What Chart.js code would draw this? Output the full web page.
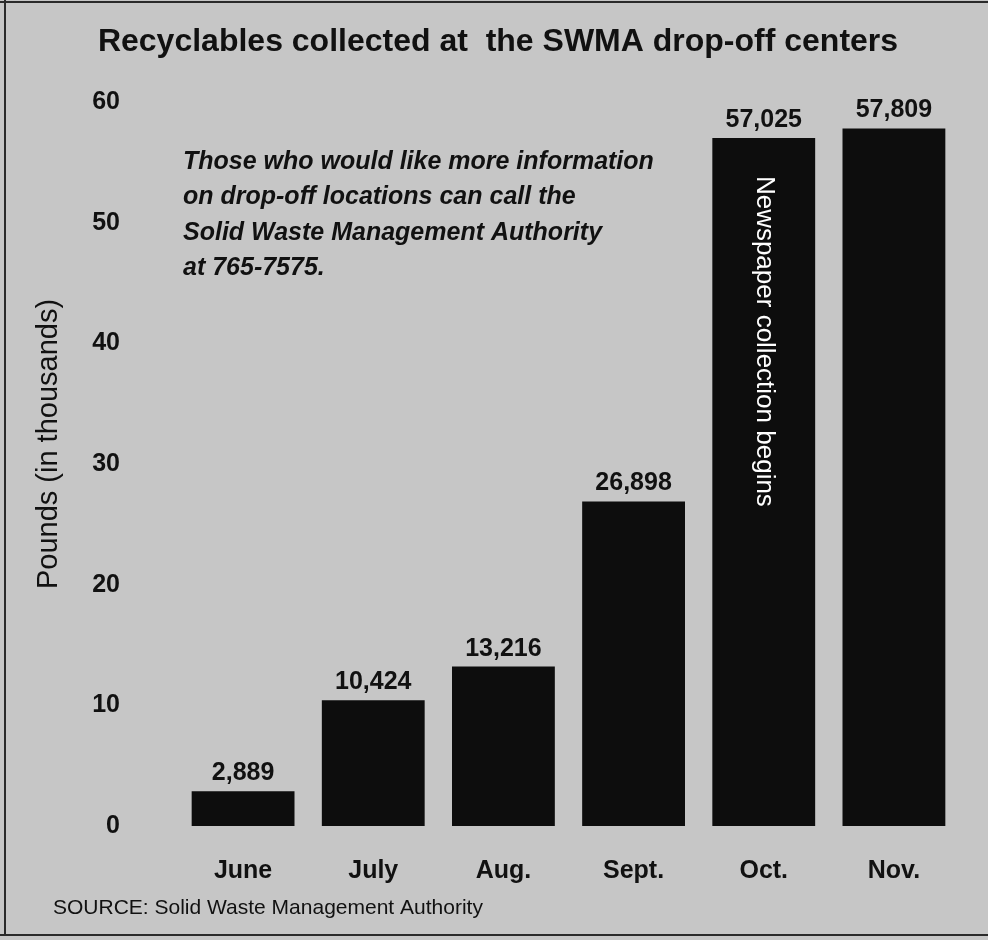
<!DOCTYPE html>
<html><head><meta charset="utf-8">
<script src="https://cdn.jsdelivr.net/npm/chart.js@4/dist/chart.umd.min.js"></script>
<style>html,body{margin:0;padding:0;background:#c4c4c4;overflow:hidden}#wrap{width:988px;height:940px;position:relative}</style>
</head><body><div id="wrap"><canvas id="c" width="988" height="940"></canvas></div>
<script>
const categories = ["June", "July", "Aug.", "Sept.", "Oct.", "Nov."];
const poundsThousands = [2.889, 10.424, 13.216, 26.898, 57.025, 57.809];
const valueLabels = ["2,889", "10,424", "13,216", "26,898", "57,025", "57,809"];
const yTicks = [0, 10, 20, 30, 40, 50, 60];
const titleText = "Recyclables collected at  the SWMA drop-off centers";
const yTitle = "Pounds (in thousands)";
const noteLines = ["Those who would like more information", "on drop-off locations can call the", "Solid Waste Management Authority", "at 765-7575."];
const barNote = "Newspaper collection begins";
const barNoteIndex = 4;
const sourceText = "SOURCE: Solid Waste Management Authority";

const FONT = "'Liberation Sans', Arial, Helvetica, sans-serif";
const INK = "#111111";

const backdrop = {
  id: 'backdrop',
  beforeDraw(chart) {
    const ctx = chart.ctx;
    ctx.save();
    ctx.fillStyle = '#c6c6c6';
    ctx.fillRect(0, 0, chart.width, chart.height);
    ctx.strokeStyle = '#2a2a2a';
    ctx.lineWidth = 2;
    ctx.beginPath();
    ctx.moveTo(5, 0); ctx.lineTo(5, 936);
    ctx.moveTo(0, 2); ctx.lineTo(988, 2);
    ctx.moveTo(0, 935); ctx.lineTo(988, 935);
    ctx.stroke();
    ctx.restore();
  }
};

const overlay = {
  id: 'overlay',
  afterDatasetsDraw(chart) {
    const ctx = chart.ctx;
    const area = chart.chartArea;
    const meta = chart.getDatasetMeta(0);
    ctx.save();
    // value labels
    ctx.fillStyle = INK;
    ctx.font = "bold 25px " + FONT;
    ctx.textAlign = 'center';
    ctx.textBaseline = 'alphabetic';
    meta.data.forEach((bar, i) => {
      ctx.fillText(valueLabels[i], bar.x, bar.y - 11);
    });
    // note
    ctx.font = "italic bold 25px " + FONT;
    ctx.textAlign = 'left';
    ctx.textBaseline = 'middle';
    noteLines.forEach((line, i) => {
      ctx.fillText(line, area.left + 5, area.top + 60 + i * 35.5);
    });
    // vertical note in bar
    const b = meta.data[barNoteIndex];
    ctx.save();
    ctx.translate(b.x, b.y + 38);
    ctx.rotate(Math.PI / 2);
    ctx.fillStyle = '#ffffff';
    ctx.font = "26px " + FONT;
    ctx.textAlign = 'left';
    ctx.textBaseline = 'middle';
    ctx.fillText(barNote, 0, 0);
    ctx.restore();
    // y axis title
    ctx.save();
    ctx.translate(49, 444);
    ctx.rotate(-Math.PI / 2);
    ctx.fillStyle = INK;
    ctx.font = "29px " + FONT;
    ctx.textAlign = 'center';
    ctx.textBaseline = 'middle';
    ctx.fillText(yTitle, 0, 0);
    ctx.restore();
    // source
    ctx.fillStyle = INK;
    ctx.font = "21px " + FONT;
    ctx.textAlign = 'left';
    ctx.textBaseline = 'middle';
    ctx.fillText(sourceText, 53, 908);
    ctx.restore();
  }
};

new Chart(document.getElementById('c'), {
  type: 'bar',
  data: {
    labels: categories,
    datasets: [{
      data: poundsThousands,
      backgroundColor: '#0d0d0d',
      borderWidth: 0,
      barPercentage: 0.79,
      categoryPercentage: 1.0
    }]
  },
  options: {
    responsive: false,
    devicePixelRatio: 1,
    animation: false,
    layout: { padding: { left: 37, right: 29, top: 0, bottom: 0 } },
    plugins: {
      legend: { display: false },
      tooltip: { enabled: false },
      title: {
        display: true,
        text: titleText,
        color: INK,
        font: { family: FONT, size: 32, weight: 'bold' },
        padding: { top: 23, bottom: 40.6 }
      }
    },
    scales: {
      x: {
        grid: { display: false, drawTicks: false },
        border: { display: false },
        ticks: { color: INK, padding: 30, font: { family: FONT, size: 25, weight: 'bold' } },
        afterFit: s => { s.height = 114; }
      },
      y: {
        min: 0, max: 60,
        grid: { display: false, drawTicks: false },
        border: { display: false },
        afterBuildTicks: s => { s.ticks = yTicks.map(v => ({ value: v })); },
        ticks: { color: INK, padding: 58, font: { family: FONT, size: 25, weight: 'bold' } },
        afterFit: s => { s.width = 141; }
      }
    }
  },
  plugins: [backdrop, overlay]
});
</script>
</body></html>
